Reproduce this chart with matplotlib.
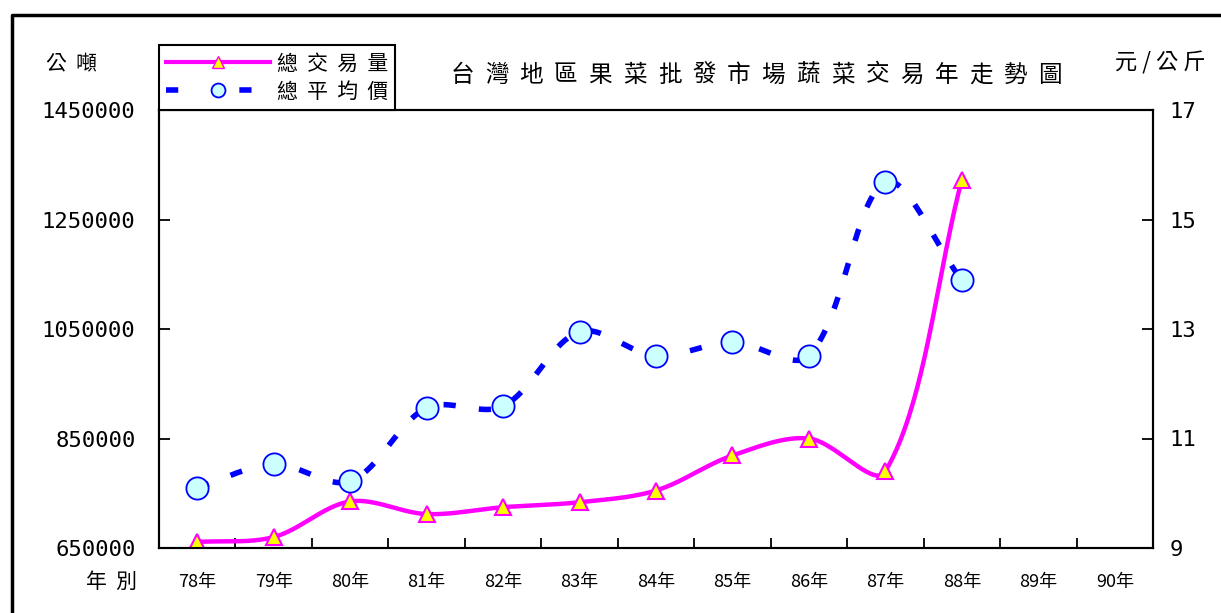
import numpy as np
import matplotlib
matplotlib.use('Agg')
import matplotlib.pyplot as plt
from matplotlib.lines import Line2D

plt.rcParams['font.family'] = ['Noto Sans CJK TC', 'DejaVu Sans']

# 年度 / 總交易量(公噸) / 總平均價(元/公斤)
years = ['78年', '79年', '80年', '81年', '82年', '83年', '84年',
         '85年', '86年', '87年', '88年', '89年', '90年']
volume = [661000, 670000, 735000, 712000, 724500, 733600, 755000,
          819000, 850000, 790000, 1323000]
price = [10.10, 10.53, 10.22, 11.56, 11.59, 12.95, 12.51,
         12.76, 12.51, 15.68, 13.89]

vol_ticks = [650000, 850000, 1050000, 1250000, 1450000]
price_ticks = [9, 11, 13, 15, 17]

MAGENTA = '#FF00FF'
BLUE = '#0000FF'


def smooth(a, x, y, n=40):
    # smoothed line through the points, worked out in screen space;
    # control arms are weighted by the length of the neighbouring segments
    pts = a.transData.transform(np.column_stack([x, y]))
    m = len(pts)
    out = []
    t = np.linspace(0, 1, n)[:, None]
    for i in range(m - 1):
        p1, p2 = pts[i], pts[i + 1]
        p0 = pts[i - 1] if i > 0 else p1
        p3 = pts[i + 2] if i + 2 < m else p2
        d01 = np.hypot(*(p1 - p0))
        d12 = np.hypot(*(p2 - p1))
        d23 = np.hypot(*(p3 - p2))
        c1 = p1 + (p2 - p0) / 3 * (d12 / (d01 + d12)) if d01 > 0 else p1 + (p2 - p1) / 3
        c2 = p2 - (p3 - p1) / 3 * (d12 / (d12 + d23)) if d23 > 0 else p2 - (p2 - p1) / 3
        seg = ((1 - t) ** 3 * p1 + 3 * t * (1 - t) ** 2 * c1
               + 3 * t ** 2 * (1 - t) * c2 + t ** 3 * p2)
        out.append(seg)
    curve = a.transData.inverted().transform(np.vstack(out))
    return curve[:, 0], curve[:, 1]


fig = plt.figure(figsize=(12.21, 6.13), dpi=100)
ax = fig.add_axes([159 / 1221, 65 / 613, 994 / 1221, 438 / 613])
ax2 = ax.twinx()

ax.set_xlim(-0.5, len(years) - 0.5)
ax.set_ylim(vol_ticks[0], vol_ticks[-1])
ax2.set_ylim(price_ticks[0], price_ticks[-1])

xi = np.arange(len(volume))
sx, sy = smooth(ax, xi, volume)
ax.plot(sx, sy, color=MAGENTA, lw=3.2, solid_capstyle='butt', zorder=2)
ax.plot(xi, volume, ls='none', marker='^', ms=12, mfc='#FFFF00',
        mec=MAGENTA, mew=1.5, zorder=3)

xp = np.arange(len(price))
sx, sy = smooth(ax2, xp, price)
ax2.plot(sx, sy, color=BLUE, lw=4, dashes=(2.2, 4.2), dash_capstyle='butt', zorder=2)
ax2.plot(xp, price, ls='none', marker='o', ms=16, mfc='#CCFFFF',
         mec=BLUE, mew=1.3, zorder=3)

# tick marks on category boundaries, labels at centers
ax.set_xticks(np.arange(len(years) - 1) + 0.5)
ax.set_xticklabels([])
ax.set_xticks(np.arange(len(years)), minor=True)
ax.set_xticklabels(years, minor=True, fontsize=13)
ax.tick_params(axis='x', which='major', direction='in', length=7, width=1.3)
ax.tick_params(axis='x', which='minor', length=0, pad=18)

ax.set_yticks(vol_ticks)
ax.set_yticklabels([str(v) for v in vol_ticks], family='DejaVu Sans Mono', fontsize=16)
ax.tick_params(axis='y', direction='in', length=8, width=1.3, pad=17)

ax2.set_yticks(price_ticks)
ax2.set_yticklabels([str(v) for v in price_ticks], family='DejaVu Sans Mono', fontsize=16)
ax2.tick_params(axis='y', direction='in', length=8, width=1.3, pad=12)

for a in (ax, ax2):
    for sp in a.spines.values():
        sp.set_linewidth(1.5)
        sp.set_color('black')

# legend
h1 = Line2D([], [], color=MAGENTA, lw=3, marker='^', ms=9, mfc='#FFFF00', mec=MAGENTA)
h2 = Line2D([], [], color=BLUE, lw=4, dashes=(2.2, 11), marker='o', ms=10,
            mfc='#CCFFFF', mec=BLUE, mew=1.3)
leg = ax2.legend([h1, h2], ['總  交  易  量', '總  平  均  價'], loc='lower left',
                 bbox_to_anchor=(0, 1), borderaxespad=0, fancybox=False,
                 edgecolor='black', framealpha=1, fontsize=15, numpoints=1,
                 handlelength=5.0, handletextpad=0.3, labelspacing=0.3,
                 borderpad=0.35)
leg.get_frame().set_linewidth(1.5)

# title, one character at a time for the wide spacing
title = '台灣地區果菜批發市場蔬菜交易年走勢圖'
for i, ch in enumerate(title):
    fig.text((462 + i * 34.6) / 1221, 1 - 75 / 613, ch, fontsize=17,
             ha='center', va='center')

fig.text(72 / 1221, 1 - 64 / 613, '公  噸', fontsize=15, ha='center', va='center')
fig.text(1160 / 1221, 1 - 63 / 613, '元 / 公 斤', fontsize=16, ha='center', va='center')
fig.text(112 / 1221, 1 - 582 / 613, '年  別', fontsize=15, ha='center', va='center')

# outer frame
fig.add_artist(Line2D([12 / 1221, 12 / 1221, 1.0], [0, 1 - 15 / 613, 1 - 15 / 613],
                      transform=fig.transFigure, color='black', lw=2.5))

fig.savefig('out.png', dpi=100)
